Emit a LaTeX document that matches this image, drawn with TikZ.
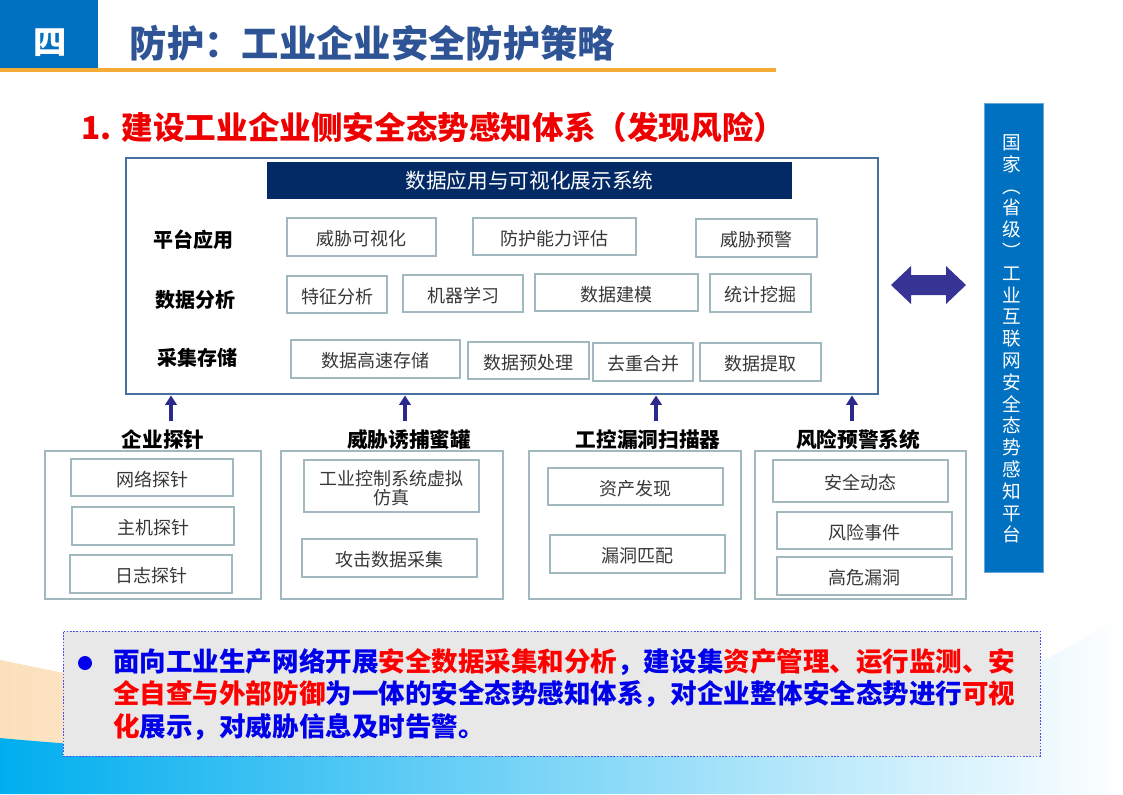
\documentclass[tikz,border=0pt]{standalone}
\usepackage{fontspec}
\setmainfont{Noto Sans CJK SC}
\usepackage{tikz}
\usetikzlibrary{arrows.meta,fit}
\definecolor{azulcab}{RGB}{0,112,192}
\definecolor{azultit}{RGB}{46,84,150}
\definecolor{naranja}{RGB}{245,172,55}
\definecolor{rojotit}{RGB}{238,0,0}
\definecolor{marino}{RGB}{3,42,100}
\definecolor{marco}{RGB}{72,112,160}
\definecolor{grisazul}{RGB}{160,184,190}
\definecolor{flechaz}{RGB}{42,42,140}
\definecolor{morado}{RGB}{56,52,150}
\definecolor{fondogris}{RGB}{232,232,232}
\definecolor{azulT}{RGB}{0,0,235}
\definecolor{rojoT}{RGB}{255,0,0}
\definecolor{celeste}{RGB}{0,174,239}
\definecolor{beige}{RGB}{252,224,188}

\begin{document}
\begin{tikzpicture}[x=0.75pt,y=-0.75pt,
   caja/.style={draw=grisazul,line width=1.1pt,inner sep=0pt,
      label={[text=black!78,align=center,yshift=-1.5pt,font=\fontsize{13.5}{14.5}\selectfont]center:#1}},
   grupo/.style={draw=grisazul,line width=1.1pt,inner sep=0pt},
   capa/.style={font=\bfseries\fontsize{15}{17}\selectfont,text=black},
   titgrupo/.style={font=\bfseries\fontsize{15.5}{17}\selectfont,text=black},
   flecha/.style={draw=flechaz,line width=2.4pt,-{Triangle[width=8.5pt,length=7pt]}}]
   \useasboundingbox (0,0) rectangle (1123,794);
   \fill[white] (0,0) rectangle (1123,794);
   %fondo
   \shade[left color=beige,right color=white] (0,660) .. controls (200,700) and (420,752) .. (720,764) -- (0,764) -- cycle;
   \shade[left color=celeste,middle color=celeste!30,right color=white]
      (0,738) .. controls (300,766) and (700,762) .. (1040,662) .. controls (1075,645) and (1100,628) .. (1123,615)
      -- (1123,794) -- (0,794) -- cycle;
   %cabecera
   \fill[azulcab] (0,0) rectangle (98,68);
   \node[text=white,font=\bfseries\fontsize{25}{27}\selectfont] (num) at (50,43) {四};
   \node[anchor=west,text=azultit,font=\bfseries\fontsize{28}{30}\selectfont] (titulo) at (125,43) {防护：工业企业安全防护策略};
   \draw[naranja,line width=2.4pt] (0,70) -- (776,70);
   \node[anchor=west,text=rojotit,font=\bfseries\fontsize{23.7}{26}\selectfont] (subtit) at (77,127) {1. 建设工业企业侧安全态势感知体系（发现风险）};
   %sistema principal
   \node[draw=marco,line width=2.2pt,inner sep=0pt,fit={(126,158) (878,394)}] (main) {};
   \node[fill=marino,inner sep=0pt,fit={(267,162) (792,199)},
      label={[text=white,font=\fontsize{15.5}{17}\selectfont]center:数据应用与可视化展示系统}] (cab) {};
   \node[capa] (plat) at (193,240) {平台应用};
   \node[capa] (anal) at (195,300) {数据分析};
   \node[capa] (alma) at (197,358) {采集存储};
   %fila 1
   \node[caja=威胁可视化,fit={(287,218) (436,256)}] (vis) {};
   \node[caja=防护能力评估,fit={(473,218) (636,255)}] (eval) {};
   \node[caja=威胁预警,fit={(696,219) (817,257)}] (alerta) {};
   %fila 2
   \node[caja=特征分析,fit={(287,276) (387,313)}] (carac) {};
   \node[caja=机器学习,fit={(403,275) (523,312)}] (apren) {};
   \node[caja=数据建模,fit={(535,274) (698,311)}] (model) {};
   \node[caja=统计挖掘,fit={(710,274) (811,312)}] (estad) {};
   %fila 3
   \node[caja=数据高速存储,fit={(291,340) (460,378)}] (guard) {};
   \node[caja=数据预处理,fit={(468,342) (589,379)}] (prepro) {};
   \node[caja=去重合并,fit={(593,343) (693,381)}] (fusion) {};
   \node[caja=数据提取,fit={(700,343) (821,381)}] (extra) {};
   %grupos inferiores
   \node[grupo,fit={(45,451) (261,599)}] (g1) {};
   \node[grupo,fit={(281,451) (503,599)}] (g2) {};
   \node[grupo,fit={(529,451) (741,599)}] (g3) {};
   \node[grupo,fit={(755,451) (966,599)}] (g4) {};
   \node[titgrupo] (t1) at (163,440) {企业探针};
   \node[titgrupo] (t2) at (409,440) {威胁诱捕蜜罐};
   \node[titgrupo] (t3) at (648,440) {工控漏洞扫描器};
   \node[titgrupo] (t4) at (858,440) {风险预警系统};
   \node[caja=网络探针,fit={(71,459) (233,496)}] (red) {};
   \node[caja=主机探针,fit={(72,507) (234,545)}] (host) {};
   \node[caja=日志探针,fit={(70,555) (232,593)}] (log) {};
   \node[caja={工业控制系统虚拟\\仿真},fit={(304,460) (479,512)}] (sim) {};
   \node[caja=攻击数据采集,fit={(302,539) (477,577)}] (ataque) {};
   \node[caja=资产发现,fit={(548,468) (723,505)}] (activo) {};
   \node[caja=漏洞匹配,fit={(550,535) (725,573)}] (vuln) {};
   \node[caja=安全动态,fit={(773,460) (948,502)}] (dinam) {};
   \node[caja=风险事件,fit={(777,512) (952,549)}] (evento) {};
   \node[caja=高危漏洞,fit={(777,557) (952,595)}] (alto) {};
   %flechas
   \coordinate (a1) at (171,421);
   \coordinate (a2) at (405,421);
   \coordinate (a3) at (656,421);
   \coordinate (a4) at (852,421);
   \draw[flecha] (a1) -- (a1 |- main.south);
   \draw[flecha] (a2) -- (a2 |- main.south);
   \draw[flecha] (a3) -- (a3 |- main.south);
   \draw[flecha] (a4) -- (a4 |- main.south);
   %plataforma nacional
   \node[fill=azulcab,draw=azulcab!60,line width=0.6pt,inner sep=0pt,fit={(984,103) (1043,572)}] (nac) {};
   \node[text=white,align=center,font=\fontsize{14}{16.35}\selectfont] (nactxt) at (1012,339)
      {国\\家\\︵\\省\\级\\︶\\工\\业\\互\\联\\网\\安\\全\\态\\势\\感\\知\\平\\台};
   \fill[morado] (891,285) -- (911,266) -- (911,275) -- (946,275) -- (946,266) -- (966,285)
      -- (946,304) -- (946,295) -- (911,295) -- (911,304) -- cycle;
   %resumen
   \node[fill=fondogris,draw=azulT!70,line width=0.7pt,dash pattern=on 1.2pt off 1.2pt,inner sep=0pt,fit={(63,631) (1040,756)}] (resumen) {};
   \fill[azulT] (85,663) circle (7);
   \node[anchor=west,inner sep=0pt,font=\bfseries\fontsize{19.9}{22}\selectfont] (l1) at (113,662)
      {\textcolor{azulT}{面向工业生产网络开展}\textcolor{rojoT}{安全数据采集和分析}\textcolor{azulT}{，建设集}\textcolor{rojoT}{资产管理、运行监测、安}};
   \node[anchor=west,inner sep=0pt,font=\bfseries\fontsize{19.9}{22}\selectfont] (l2) at (113,694)
      {\textcolor{rojoT}{全自查与外部防御}\textcolor{azulT}{为一体的安全态势感知体系，对企业整体安全态势进行}\textcolor{rojoT}{可视}};
   \node[anchor=west,inner sep=0pt,font=\bfseries\fontsize{19.9}{22}\selectfont] (l3) at (113,727)
      {\textcolor{rojoT}{化}\textcolor{azulT}{展示，对威胁信息及时告警。}};
\end{tikzpicture}
\end{document}
